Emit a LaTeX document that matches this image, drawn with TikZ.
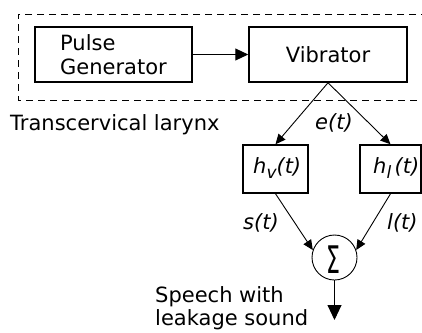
\documentclass[tikz,border=0pt]{standalone}
\usepackage{fontspec}
\setmainfont{DejaVu Sans}
\usetikzlibrary{arrows.meta}
\begin{document}
\begin{tikzpicture}[x=1pt,y=-1pt,
  every node/.style={font=\fontsize{21}{24}\selectfont, inner sep=0pt},
  blockbox/.style={draw, line width=1.5pt, minimum width=#1, minimum height=48pt},
  conn/.style={line width=0.9pt, -{Triangle[length=10pt,width=9pt]}},
  bigconn/.style={line width=1pt, -{Triangle[length=13pt,width=12pt]}},
  outconn/.style={line width=0.9pt, -{Triangle[length=15pt,width=14pt]}},
  lbl/.style={anchor=base west, font=\fontsize{21}{24}\selectfont\itshape}]
\useasboundingbox (0,0) rectangle (422,332);
\clip (0,0) rectangle (422,332);
% dashed enclosure
\draw[line width=1pt, dash pattern=on 7pt off 5pt] (440,14) -- (18,14) -- (18,100) -- (440,100);
% blocks
\node[blockbox=157pt, minimum height=55pt, align=left] (pg) at (113.5,54.5) {Pulse\\Generator};
\node[blockbox=158pt, minimum height=55pt] (vib) at (328,54.5) {Vibrator};
\node[blockbox=65pt] (hv) at (275.5,169) {};
\node[blockbox=61pt] (hl) at (390.5,169) {};
\node[lbl] (hvt) at (253,173) {h\raisebox{-5pt}{\fontsize{17}{17}\selectfont v}(t)};
\node[lbl] (hlt) at (373,173) {h\raisebox{-5pt}{\fontsize{17}{17}\selectfont l}\,(t)};
\node[draw, circle, line width=0.9pt, minimum size=45pt] (sum) at (334.5,257.5) {};
\node (sig) at (333.5,259.5) {\fontsize{38}{38}\selectfont\scalebox{0.58}[1]{Σ}};
\coordinate (out) at (334.5,320);
% labels
\node[anchor=base west] (tl) at (10,130) {Transcervical larynx};
\node[lbl] (et) at (315,129) {e(t)};
\node[lbl] (st) at (243,229) {s(t)};
\node[lbl] (lt) at (387,229) {l(t)};
\node[anchor=base west, align=left] (sp) at (155,302) {Speech with};
\node[anchor=base west, align=left] (lk) at (155,325) {leakage sound};
% connectors
\draw[bigconn] (pg) -- (vib);
\draw[conn] (vib.south) -- (hv.north);
\draw[conn] (vib.south) -- (hl.north);
\draw[conn] (hv.south) -- (sum.161);
\draw[conn] (hl.south) -- (sum.19);
\draw[outconn] (sum.south) -- (out);
\end{tikzpicture}
\end{document}
